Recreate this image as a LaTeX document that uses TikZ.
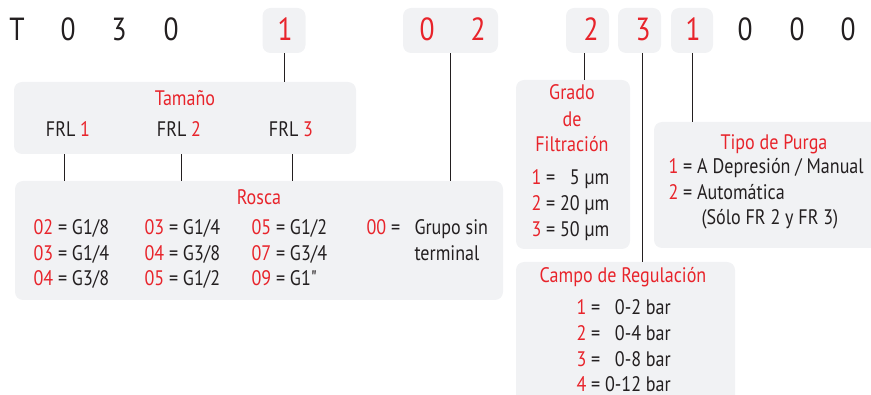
\documentclass[tikz,border=0pt]{standalone}
\usepackage{fontspec}
\setmainfont{PT Sans}[FakeStretch=0.86, Ligatures=TeXOff]
\usepackage{xcolor}
\definecolor{codered}{HTML}{E8242B}
\definecolor{boxgray}{HTML}{F1F2F4}
\definecolor{ink}{HTML}{231F20}

\begin{document}
\begin{tikzpicture}[x=1pt,y=-1pt,
    panel/.style={fill=boxgray, rounded corners=8pt, inner sep=0pt},
    digit/.style={font=\fontsize{32}{32}\selectfont, text=ink, anchor=base},
    reddigit/.style={digit, text=codered},
    ttl/.style={font=\fontsize{21}{25}\selectfont, text=codered, anchor=base},
    txt/.style={font=\fontsize{21}{25}\selectfont, text=ink, anchor=base west},
    link/.style={ink, line width=0.8pt}]
    \useasboundingbox (0,0) rectangle (871,395);
    \clip (0,0) rectangle (871,395);

    % Code boxes
    \node[panel, minimum width=43pt, minimum height=45pt] (b1) at (284,30.5) {};
    \node[panel, minimum width=95pt, minimum height=45pt] (b02) at (450.5,30.5) {};
    \node[panel, minimum width=43pt, minimum height=45pt] (b2) at (587.5,30.5) {};
    \node[panel, minimum width=43pt, minimum height=45pt] (b3) at (639.5,30.5) {};
    \node[panel, minimum width=42pt, minimum height=45pt] (bp) at (692,30.5) {};

    % Code digits
    \node[digit] (cT) at (17,40.5) {T};
    \node[digit] (c0a) at (68,40.5) {0};
    \node[digit] (c3) at (119,40.5) {3};
    \node[digit] (c0b) at (171,40.5) {0};
    \node[reddigit] (cs) at (285,40.5) {1};
    \node[reddigit] (cr0) at (427,40.5) {0};
    \node[reddigit] (cr2) at (478,40.5) {2};
    \node[reddigit] (cf) at (591,40.5) {2};
    \node[reddigit] (cc) at (643,40.5) {3};
    \node[reddigit] (cp) at (693,40.5) {1};
    \node[digit] (c0c) at (745,40.5) {0};
    \node[digit] (c0d) at (797,40.5) {0};
    \node[digit] (c0e) at (848,40.5) {0};

    % Panels
    \node[panel, minimum width=342pt, minimum height=72pt] (tam) at (185,118) {};
    \node[panel, minimum width=488pt, minimum height=119pt] (rosca) at (259,240.5) {};
    \node[panel, minimum width=114pt, minimum height=169pt] (grado) at (573,164.5) {};
    \node[panel, minimum width=246pt, minimum height=126pt] (purga) at (777,185) {};
    \node[panel, minimum width=219pt, minimum height=160pt] (campo) at (625.5,342) {};

    % Tamano
    \node[ttl] (tamt) at (185,106) {Tamaño};
    \node[ttl, text=ink] (frl1) at (68,137) {FRL \textcolor{codered}{1}};
    \node[ttl, text=ink] (frl2) at (179,137) {FRL \textcolor{codered}{2}};
    \node[ttl, text=ink] (frl3) at (291,137) {FRL \textcolor{codered}{3}};

    % Rosca
    \node[ttl] (roscat) at (259,205) {Rosca};
    \node[txt] (r11) at (30,235) {\textcolor{codered}{02} = G1/8};
    \node[txt] (r21) at (30,261) {\textcolor{codered}{03} = G1/4};
    \node[txt] (r31) at (30,286) {\textcolor{codered}{04} = G3/8};
    \node[txt] (r12) at (141,235) {\textcolor{codered}{03} = G1/4};
    \node[txt] (r22) at (141,261) {\textcolor{codered}{04} = G3/8};
    \node[txt] (r32) at (141,286) {\textcolor{codered}{05} = G1/2};
    \node[txt] (r13) at (248,235) {\textcolor{codered}{05} = G1/2};
    \node[txt] (r23) at (248,261) {\textcolor{codered}{07} = G3/4};
    \node[txt] (r33) at (248,286) {\textcolor{codered}{09} = G1"};
    \node[txt] (r14) at (363,235) {\textcolor{codered}{00} =};
    \node[txt] (r15) at (411,235) {Grupo sin};
    \node[txt] (r25) at (411,261) {terminal};

    % Grado de filtracion
    \node[ttl] (gr1) at (572,100) {Grado};
    \node[ttl] (gr2) at (572,127) {de};
    \node[ttl] (gr3) at (572,152) {Filtración};
    \node[txt] (g1) at (528,185) {\textcolor{codered}{1} = \phantom{2}5 µm};
    \node[txt] (g2) at (528,211) {\textcolor{codered}{2} = 20 µm};
    \node[txt] (g3) at (528,237) {\textcolor{codered}{3} = 50 µm};

    % Tipo de purga
    \node[ttl] (pt) at (774,150) {Tipo de Purga};
    \node[txt] (p1) at (665,174) {\textcolor{codered}{1} = A Depresión / Manual};
    \node[txt] (p2) at (665,200) {\textcolor{codered}{2} = Automática};
    \node[txt] (p3) at (698,225) {(Sólo FR 2 y FR 3)};

    % Campo de regulacion
    \node[ttl] (ct) at (623,283) {Campo de Regulación};
    \node[txt] (k1) at (573,315) {\textcolor{codered}{1} = \phantom{1}0-2 bar};
    \node[txt] (k2) at (573,341) {\textcolor{codered}{2} = \phantom{1}0-4 bar};
    \node[txt] (k3) at (573,367) {\textcolor{codered}{3} = \phantom{1}0-8 bar};
    \node[txt] (k4) at (573,392) {\textcolor{codered}{4} = 0-12 bar};

    % Draw links
    \draw[link] (b1.south) -- (b1.south |- tam.north);
    \draw[link] (b02.south) -- (b02.south |- rosca.north);
    \draw[link] ([xshift=-3.5pt]b2.south) -- ([xshift=-3.5pt]b2.south |- grado.north);
    \draw[link] ([xshift=2.5pt]b3.south) -- ([xshift=2.5pt]b3.south |- campo.north);
    \draw[link] (bp.south) -- (bp.south |- purga.north);
    \draw[link] ([xshift=-4pt]frl1.south |- tam.south) -- ([xshift=-4pt]frl1.south |- rosca.north);
    \draw[link] ([xshift=2pt]frl2.south |- tam.south) -- ([xshift=2pt]frl2.south |- rosca.north);
    \draw[link] ([xshift=1pt]frl3.south |- tam.south) -- ([xshift=1pt]frl3.south |- rosca.north);
\end{tikzpicture}
\end{document}
